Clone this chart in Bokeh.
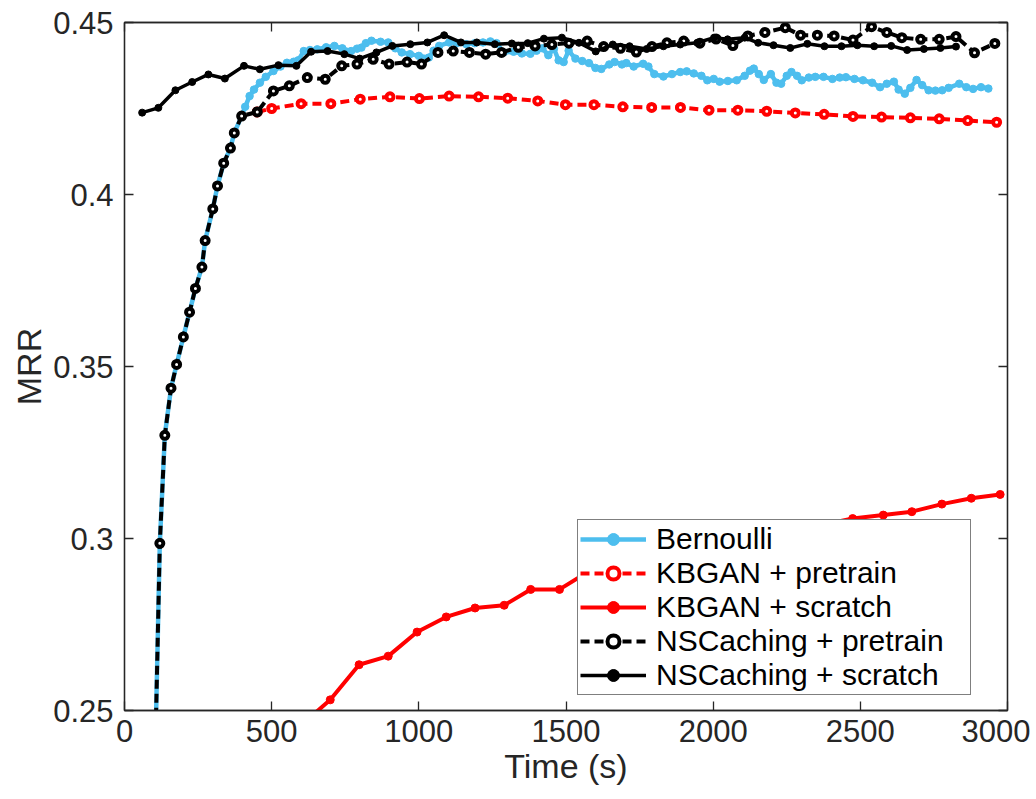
from bokeh.plotting import figure
from bokeh.models import (Range1d, LinearAxis, FixedTicker, Legend, LegendItem,
                          CustomJSTickFormatter)
from bokeh.embed import file_html
from bokeh.resources import INLINE

# ---------------- data ----------------
x_ticks = [0, 500, 1000, 1500, 2000, 2500, 3000]
y_ticks = [0.25, 0.30, 0.35, 0.40, 0.45]

bern_x = [104, 120, 137, 158, 177, 200, 221, 241, 263, 274, 300, 316, 337, 360, 373, 398,
          410, 425, 440, 460, 480, 506, 530, 552, 575, 590, 609, 630, 655, 685, 713, 740,
          770, 790, 805, 820, 839, 870, 896, 920, 942, 970, 1000, 1034, 1050, 1069, 1103,
          1130, 1161, 1190, 1218, 1243, 1264, 1288, 1322, 1350, 1379, 1400, 1420, 1440,
          1459, 1475, 1492, 1509, 1532, 1555, 1578, 1600, 1620, 1647, 1665, 1690, 1705,
          1730, 1762, 1780, 1800, 1831, 1860, 1888, 1910, 1934, 1960, 1980, 2002, 2022,
          2050, 2080, 2107, 2125, 2138, 2155, 2172, 2196, 2215, 2231, 2250, 2266, 2285,
          2301, 2325, 2347, 2375, 2405, 2430, 2451, 2480, 2509, 2540, 2567, 2590, 2614,
          2630, 2651, 2670, 2691, 2710, 2732, 2755, 2778, 2800, 2836, 2860, 2883, 2910, 2935]
bern_y = [0.236, 0.2986, 0.330, 0.3437, 0.3506, 0.3586, 0.3658, 0.3727, 0.3789, 0.3866,
          0.3958, 0.4025, 0.4091, 0.4135, 0.4179, 0.4228,
          0.4255, 0.4286, 0.4305, 0.4325, 0.4342, 0.4359, 0.4372, 0.4383, 0.4386, 0.4390,
          0.4417, 0.4420, 0.4422, 0.4428, 0.4432, 0.4425, 0.4417, 0.4424, 0.4427, 0.4440,
          0.4447, 0.4444, 0.4442, 0.4425, 0.4413, 0.4408, 0.4403, 0.4398, 0.4418, 0.4432,
          0.4442, 0.4440, 0.4437, 0.4440, 0.4442, 0.4445, 0.4440, 0.4413, 0.4415, 0.4410,
          0.4409, 0.4418, 0.4425, 0.4405, 0.4424, 0.4390, 0.4385, 0.4418, 0.4395, 0.4388,
          0.4382, 0.4368, 0.4365, 0.4378, 0.4385, 0.4378, 0.4382, 0.4372, 0.4380, 0.4372,
          0.4350, 0.4343, 0.4350, 0.4356, 0.4358, 0.4352, 0.4345, 0.4332, 0.4336, 0.4328,
          0.4330, 0.4332, 0.4345, 0.4360, 0.4366, 0.4350, 0.4333, 0.4350, 0.4325, 0.4322,
          0.4345, 0.4356, 0.4345, 0.4332, 0.4340, 0.4342, 0.4342, 0.4336, 0.4340, 0.4341,
          0.4336, 0.4332, 0.4325, 0.4312, 0.4322, 0.4328, 0.4305, 0.4293, 0.4310, 0.4333,
          0.4318, 0.4303, 0.4302, 0.4303, 0.4310, 0.4322, 0.4312, 0.4307, 0.4312, 0.4308]

kbp_x = [451, 500, 600, 701, 801, 902, 1002, 1103, 1203, 1302, 1404, 1498, 1595, 1693,
         1791, 1889, 1986, 2084, 2182, 2279, 2377, 2475, 2572, 2670, 2768, 2865, 2963]
kbp_y = [0.4240, 0.4250, 0.4264, 0.4264, 0.4277, 0.4284, 0.4279, 0.4286, 0.4284, 0.4280,
         0.4272, 0.4261, 0.4261, 0.4255, 0.4253, 0.4253, 0.4245, 0.4245, 0.4242, 0.4237,
         0.4233, 0.4227, 0.4225, 0.4223, 0.4220, 0.4215, 0.4210]

kbs_x = [601, 699, 797, 896, 994, 1093, 1191, 1290, 1380, 1478, 1578, 1677, 1777, 1876,
         1976, 2075, 2175, 2275, 2374, 2474, 2578, 2675, 2777, 2877, 2975]
kbs_y = [0.2458, 0.2531, 0.2633, 0.2658, 0.2728, 0.2772, 0.2798, 0.2806, 0.2852, 0.2852,
         0.2905, 0.2920, 0.2938, 0.2955, 0.2972, 0.2990, 0.3005, 0.3022, 0.3040, 0.3058,
         0.3068, 0.3078, 0.3100, 0.3117, 0.3128]

nsp_x = [104, 120, 137, 158, 177, 200, 221, 241, 263, 274, 300, 316, 337, 360, 373, 398,
         451, 506, 560, 621, 682, 738, 790, 845, 899, 960, 1009, 1065, 1117, 1172, 1227,
         1281, 1338, 1395, 1452, 1510, 1572, 1628, 1685, 1739, 1792, 1843, 1900, 1955,
         2010, 2067, 2118, 2176, 2245, 2297, 2354, 2411, 2475, 2538, 2590, 2641, 2705,
         2768, 2825, 2888, 2957]
nsp_y = [0.236, 0.2986, 0.330, 0.3437, 0.3506, 0.3586, 0.3658, 0.3727, 0.3789, 0.3866,
         0.3958, 0.4025, 0.4091, 0.4135, 0.4179, 0.4228,
         0.4240, 0.4301, 0.4316, 0.4340, 0.4335, 0.4374, 0.4379, 0.4393, 0.4379, 0.4385,
         0.4379, 0.4413, 0.4417, 0.4413, 0.4408, 0.4413, 0.4428, 0.4432, 0.4436, 0.4440,
         0.4446, 0.4430, 0.4425, 0.4414, 0.4430, 0.4441, 0.4446, 0.4440, 0.4452, 0.4433,
         0.4461, 0.4471, 0.4485, 0.4463, 0.4463, 0.4461, 0.4449, 0.4488, 0.4471, 0.4456,
         0.4451, 0.4451, 0.4459, 0.4412, 0.4439]

nss_x = [60, 115, 173, 230, 285, 341, 406, 460, 523, 584, 634, 690, 747, 799, 856, 910,
         971, 1029, 1086, 1143, 1197, 1258, 1316, 1370, 1425, 1486, 1544, 1601, 1659, 1716,
         1774, 1831, 1888, 1946, 2003, 2049, 2107, 2153, 2205, 2262, 2320, 2378, 2436,
         2490, 2547, 2605, 2659, 2716, 2772, 2825]
nss_y = [0.4238, 0.4252, 0.4303, 0.4327, 0.4349, 0.4337, 0.4374, 0.4364, 0.4376, 0.4374,
         0.4415, 0.4417, 0.4408, 0.4395, 0.4413, 0.4432, 0.4437, 0.4442, 0.4463, 0.4442,
         0.4442, 0.4437, 0.4439, 0.4440, 0.4453, 0.4456, 0.4441, 0.4416, 0.4436, 0.4431,
         0.4423, 0.4431, 0.4436, 0.4441, 0.4456, 0.4451, 0.4456, 0.4441, 0.4434, 0.4426,
         0.4438, 0.4431, 0.4431, 0.4434, 0.4431, 0.4432, 0.4420, 0.4423, 0.4426, 0.4430]

labels = ["Bernoulli", "KBGAN + pretrain", "KBGAN + scratch",
          "NSCaching + pretrain", "NSCaching + scratch"]

# ---------------- styling ----------------
FONT = "Liberation Sans"
AX = "#262626"
BLUE = "#4DBEEE"
RED = "#FF0000"
BLACK = "#000000"
DASH = "9 5"

p = figure(width=1030, height=799, x_range=Range1d(0, 3000), y_range=Range1d(0.25, 0.45),
           output_backend="svg", toolbar_location=None,
           min_border_left=124, min_border_right=23, min_border_top=22, min_border_bottom=89,
           x_axis_label="Time (s)", y_axis_label="MRR")
p.background_fill_color = "white"
p.border_fill_color = "white"
p.outline_line_color = AX
p.outline_line_width = 1.3
p.xgrid.visible = False
p.ygrid.visible = False

fmt = CustomJSTickFormatter(code="return String(parseFloat(tick.toFixed(4)));")
blank = CustomJSTickFormatter(code="return '';")

for ax, ticks in ((p.xaxis[0], x_ticks), (p.yaxis[0], y_ticks)):
    ax.ticker = FixedTicker(ticks=ticks)
    ax.formatter = fmt
    ax.major_tick_in = 9
    ax.major_tick_out = 0
    ax.minor_tick_in = 0
    ax.minor_tick_out = 0
    ax.axis_line_color = AX
    ax.axis_line_width = 1.3
    ax.major_tick_line_color = AX
    ax.major_tick_line_width = 1.3
    ax.major_label_text_font = FONT
    ax.major_label_text_font_size = "31px"
    ax.major_label_text_color = AX
    ax.axis_label_text_font = FONT
    ax.axis_label_text_font_size = "34px"
    ax.axis_label_text_font_style = "normal"
    ax.axis_label_text_color = AX

p.xaxis[0].major_label_standoff = 9
p.xaxis[0].axis_label_standoff = 2
p.yaxis[0].major_label_standoff = 11
p.yaxis[0].axis_label_standoff = 2

for side, ticks in (("above", x_ticks), ("right", y_ticks)):
    a = LinearAxis(ticker=FixedTicker(ticks=ticks), formatter=blank,
                   major_tick_in=9, major_tick_out=0, minor_tick_in=0, minor_tick_out=0,
                   axis_line_color=AX, axis_line_width=1.3,
                   major_tick_line_color=AX, major_tick_line_width=1.3,
                   major_label_text_font_size="0px", major_label_standoff=0)
    p.add_layout(a, side)

# ---------------- series ----------------
r1l = p.line(bern_x, bern_y, line_color=BLUE, line_width=4.5)
r1m = p.scatter(bern_x, bern_y, marker="circle", size=7.5, fill_color=BLUE, line_color=BLUE)

r2l = p.line(kbp_x, kbp_y, line_color=RED, line_width=4, line_dash=DASH)
r2m = p.scatter(kbp_x, kbp_y, marker="circle", size=7, fill_color="white",
                line_color=RED, line_width=4)

r3l = p.line(kbs_x, kbs_y, line_color=RED, line_width=4)
r3m = p.scatter(kbs_x, kbs_y, marker="circle", size=8, fill_color=RED, line_color=RED)

r4l = p.line(nsp_x, nsp_y, line_color=BLACK, line_width=4, line_dash=DASH)
r4m = p.scatter(nsp_x, nsp_y, marker="circle", size=7, fill_color="white",
                line_color=BLACK, line_width=4)

r5l = p.line(nss_x, nss_y, line_color=BLACK, line_width=3.5)
r5m = p.scatter(nss_x, nss_y, marker="circle", size=7, fill_color=BLACK, line_color=BLACK)

items = [LegendItem(label=labels[0], renderers=[r1l, r1m]),
         LegendItem(label=labels[1], renderers=[r2l, r2m]),
         LegendItem(label=labels[2], renderers=[r3l, r3m]),
         LegendItem(label=labels[3], renderers=[r4l, r4m]),
         LegendItem(label=labels[4], renderers=[r5l, r5m])]
legend = Legend(items=items, location=(453, 15), orientation="vertical",
                label_text_font=FONT, label_text_font_size="30px", label_text_color="black",
                glyph_width=66, glyph_height=30, label_height=30, label_standoff=10,
                label_width=312, spacing=0, padding=2, margin=0,
                border_line_color="black", border_line_width=1.3,
                background_fill_color="white", background_fill_alpha=1.0)
p.add_layout(legend)

open("out.html", "w").write(file_html(p, INLINE))
